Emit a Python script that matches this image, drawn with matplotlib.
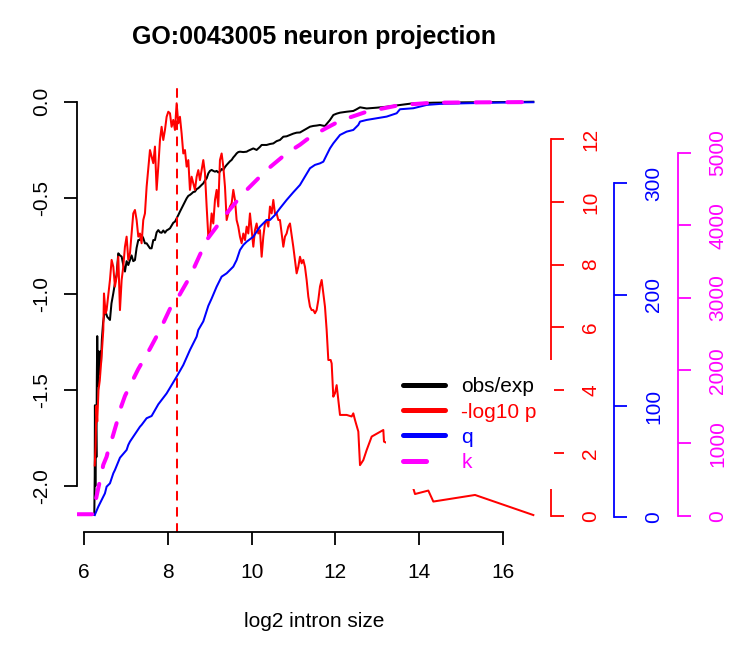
import matplotlib
matplotlib.use("Agg")
import matplotlib.pyplot as plt
from matplotlib.lines import Line2D

plt.rcParams['font.family'] = ['Liberation Sans', 'DejaVu Sans']
plt.rcParams['axes.unicode_minus'] = False
plt.rcParams['lines.scale_dashes'] = False

# obs/exp (left axis)
obs_x = [6.24, 6.25, 6.255, 6.265, 6.275, 6.29, 6.30, 6.31, 6.325, 6.34, 6.36, 6.38,
         6.40, 6.42, 6.45, 6.494, 6.55, 6.614, 6.65, 6.694, 6.733, 6.773, 6.813, 6.853,
         6.893, 6.932, 6.972, 7.012, 7.052, 7.092, 7.13, 7.171, 7.211, 7.251, 7.291, 7.33,
         7.370, 7.41, 7.450, 7.490, 7.53, 7.570, 7.609, 7.649, 7.689, 7.729, 7.769, 7.809,
         7.848, 7.888, 7.928, 7.968, 8.008, 8.048, 8.087, 8.127, 8.167, 8.207, 8.247, 8.286,
         8.326, 8.366, 8.406, 8.446, 8.486, 8.525, 8.565, 8.605, 8.645, 8.685, 8.725, 8.764,
         8.804, 8.844, 8.884, 8.924, 8.964, 9.003, 9.043, 9.083, 9.123, 9.163, 9.202, 9.242,
         9.282, 9.322, 9.362, 9.402, 9.441, 9.481, 9.521, 9.561, 9.601, 9.640, 9.680, 9.720,
         9.80, 9.880, 9.919, 9.959, 10.039, 10.118, 10.198, 10.238, 10.357, 10.437, 10.517,
         10.596, 10.676, 10.756, 10.835, 10.915, 10.994, 11.074, 11.154, 11.233, 11.313,
         11.393, 11.473, 11.552, 11.632, 11.712, 11.751, 11.871, 11.951, 12.03, 12.110,
         12.269, 12.428, 12.50, 12.588, 12.747, 12.986, 13.225, 13.543, 13.862, 14.340,
         14.738, 15.136, 15.933, 16.729]
obs_y = [-2.15, -1.95, -1.58, -2.0, -1.62, -1.85, -1.45, -1.22, -1.48, -1.30, -1.42, -1.30,
         -1.36, -1.24, -1.15, -1.084, -1.12, -1.136, -1.05, -0.997, -0.945, -0.90, -0.789, -0.80,
         -0.806, -0.85, -0.884, -0.83, -0.85, -0.824, -0.80, -0.83, -0.824, -0.76, -0.720, -0.72,
         -0.694, -0.71, -0.737, -0.737, -0.75, -0.763, -0.763, -0.72, -0.72, -0.68, -0.668, -0.68,
         -0.682, -0.67, -0.682, -0.67, -0.665, -0.659, -0.645, -0.63, -0.624, -0.607, -0.59, -0.572,
         -0.555, -0.538, -0.52, -0.503, -0.49, -0.485, -0.478, -0.47, -0.468, -0.455, -0.45, -0.442,
         -0.433, -0.425, -0.41, -0.399, -0.373, -0.36, -0.355, -0.36, -0.364, -0.36, -0.368, -0.364,
         -0.35, -0.355, -0.34, -0.329, -0.32, -0.31, -0.303, -0.29, -0.28, -0.269, -0.262, -0.260,
         -0.262, -0.260, -0.255, -0.251, -0.243, -0.251, -0.235, -0.225, -0.225, -0.22, -0.217,
         -0.205, -0.199, -0.182, -0.18, -0.173, -0.166, -0.161, -0.16, -0.15, -0.14,
         -0.13, -0.126, -0.124, -0.121, -0.125, -0.126, -0.095, -0.069, -0.062, -0.057,
         -0.052, -0.048, -0.040, -0.029, -0.035, -0.031, -0.026, -0.017, -0.008, -0.005,
         -0.004, -0.003, -0.002, 0.0]

# -log10 p (red axis)
p_x = [6.25, 6.27, 6.29, 6.31, 6.34, 6.37, 6.41, 6.455, 6.471, 6.510, 6.534, 6.614,
       6.654, 6.694, 6.733, 6.773, 6.813, 6.853, 6.893, 6.932, 6.972, 7.012, 7.052, 7.092,
       7.171, 7.211, 7.251, 7.291, 7.331, 7.370, 7.410, 7.450, 7.490, 7.570, 7.609, 7.649,
       7.689, 7.729, 7.769, 7.809, 7.848, 7.888, 7.928, 7.968, 8.008, 8.048, 8.087, 8.127,
       8.167, 8.207, 8.247, 8.286, 8.326, 8.366, 8.406, 8.446, 8.486, 8.525, 8.565, 8.605,
       8.645, 8.685, 8.725, 8.764, 8.804, 8.844, 8.884, 8.924, 8.964, 9.003, 9.043, 9.083,
       9.123, 9.163, 9.202, 9.242, 9.282, 9.322, 9.362, 9.402, 9.441, 9.481, 9.521, 9.561,
       9.601, 9.640, 9.680, 9.720, 9.760, 9.800, 9.840, 9.880, 9.919, 9.959, 9.999, 10.039,
       10.079, 10.118, 10.158, 10.198, 10.238, 10.278, 10.317, 10.357, 10.397, 10.437,
       10.477, 10.517, 10.556, 10.596, 10.636, 10.676, 10.716, 10.756, 10.795, 10.835,
       10.875, 10.915, 10.994, 11.034, 11.074, 11.114, 11.154, 11.194, 11.233, 11.273,
       11.313, 11.353, 11.393, 11.433, 11.473, 11.512, 11.552, 11.592, 11.632, 11.672,
       11.712, 11.751, 11.791, 11.831, 11.887, 11.911, 11.950, 11.990, 12.030, 12.070,
       12.110, 12.269, 12.389, 12.428, 12.468, 12.548, 12.588, 12.667, 12.747, 12.867,
       13.145, 13.161, 13.241, 13.862, 13.902, 14.220, 14.340, 15.336, 16.729]
p_y = [1.6, 2.2, 3.5, 3.0, 4.0, 4.3, 5.0, 5.92, 7.08, 6.45, 6.55, 7.51,
       8.15, 7.93, 7.30, 7.61, 8.25, 6.55, 7.51, 7.93, 8.57, 8.89, 8.15, 8.36,
       9.63, 9.74, 9.42, 8.89, 8.99, 8.68, 9.42, 9.63, 10.48, 11.65, 11.44, 11.23,
       11.76, 10.38, 11.12, 11.97, 12.39, 11.97, 12.29, 12.71, 12.87, 12.82, 12.39, 12.61,
       12.29, 13.14, 12.50, 12.71, 12.18, 11.54, 11.65, 11.12, 11.33, 10.38, 10.80, 10.59,
       10.38, 10.80, 11.01, 10.69, 11.01, 11.33, 10.91, 9.85, 8.89, 8.99, 9.63, 9.31,
       10.06, 10.38, 9.85, 11.33, 11.54, 11.12, 10.48, 9.42, 9.63, 9.85, 9.95, 10.38,
       10.06, 9.42, 9.21, 8.89, 8.68, 8.99, 8.78, 9.21, 8.99, 9.63, 9.10, 8.57,
       9.10, 9.31, 8.99, 9.10, 8.25, 8.89, 9.31, 9.42, 9.21, 9.85,
       9.63, 10.06, 9.63, 9.63, 9.42, 9.42, 8.99, 8.57, 8.89, 8.99,
       9.21, 9.31, 8.57, 8.15, 7.72, 7.93, 8.25, 8.04, 8.15, 7.93,
       7.51, 6.98, 6.66, 6.55, 6.55, 6.45, 6.55, 6.87, 7.30, 7.51,
       7.08, 6.66, 5.92, 4.96, 4.96, 4.85, 3.79, 3.90, 4.16, 3.69,
       3.21, 3.21, 3.16, 3.26, 3.05, 2.68, 1.61, 1.77, 2.09, 2.52,
       2.73, 2.36, 2.31, 0.87, 0.69, 0.80, 0.45, 0.66, 0.02]

# q (blue axis)
q_x = [6.25, 6.335, 6.494, 6.534, 6.614, 6.694, 6.733, 6.853, 7.012, 7.052, 7.092, 7.331,
       7.370, 7.490, 7.609, 7.769, 7.968, 8.207, 8.366, 8.525, 8.685, 8.725, 8.844, 8.964,
       9.043, 9.163, 9.282, 9.402, 9.561, 9.640, 9.720, 9.800, 9.880, 10.039, 10.198,
       10.357, 10.437, 10.556, 10.676, 10.835, 10.994, 11.154, 11.273, 11.393, 11.512,
       11.632, 11.712, 11.791, 11.871, 11.951, 12.110, 12.269, 12.428, 12.548, 12.588,
       12.747, 12.986, 13.225, 13.464, 13.543, 13.862, 14.181, 14.499, 15.136, 15.933, 16.729]
q_y = [2, 9.5, 21.5, 27.5, 30.5, 39.5, 42.5, 53.5, 60.5, 65, 68, 81.4,
       83, 89, 91, 101.5, 111.3, 126.3, 136.8, 150.3, 162.3, 168.3, 176, 190,
       196.5, 207.2, 216.2, 219.2, 225.2, 231.1, 240.1, 244.6, 247.6, 252.1, 261.1,
       267.1, 267.1, 271.6, 277.6, 285.1, 292, 298.6, 306.1, 313.6, 316.6,
       318.0, 319.5, 325.5, 331.5, 336.0, 343.5, 346.5, 348.0, 352.5, 355.5,
       357.0, 358.5, 360.0, 363.0, 366.6, 367.5, 370.5, 371.4, 372.0, 372.6, 372.9]

# k (magenta axis)
k_x = [5.84, 6.20, 6.22, 6.26, 6.335, 6.416, 6.454, 6.535, 6.614, 6.655, 6.774, 6.853,
       6.973, 7.092, 7.29, 7.570, 7.809, 8.048, 8.207, 8.525, 8.924, 9.402, 9.80, 10.357,
       10.835, 11.154, 11.313, 11.473, 11.751, 12.11, 12.747, 13.543, 14.34, 15.136, 16.729]
k_y = [20, 20, 40, 175, 380, 584, 700, 813, 1000, 1043, 1277, 1456,
       1650, 1790, 2020, 2300, 2558, 2850, 2972, 3292, 3797, 4165, 4441, 4762,
       4992, 5110, 5180, 5240, 5330, 5440, 5565, 5657, 5689, 5693, 5698]

cut_x = 8.21

fig = plt.figure(figsize=(7.38, 6.48), dpi=100)
ax = fig.add_axes([0.1047, 0.1795, 0.6415, 0.6890])
ax.set_xlim(5.833, 17.144)
ax.set_ylim(-2.238, 0.086)

for s in ['top', 'right']:
    ax.spines[s].set_visible(False)
ax.spines['left'].set_bounds(-2, 0)
ax.spines['bottom'].set_bounds(6, 16)
for s in ['left', 'bottom']:
    ax.spines[s].set_linewidth(1.3)
ax.set_xticks([6, 8, 10, 12, 14, 16])
ax.set_xticklabels(['6', '8', '10', '12', '14', '16'], fontsize=15)
yt = [-2.0, -1.5, -1.0, -0.5, 0.0]
ax.set_yticks(yt)
ax.set_yticklabels(['%.1f' % v for v in yt], fontsize=15, rotation=90, va='center')
ax.tick_params(axis='both', length=9.4, width=1.3)
ax.tick_params(axis='x', pad=13)
ax.tick_params(axis='y', pad=9.5)

ax.plot(obs_x, obs_y, color='black', lw=1.45)
ax.axvline(cut_x, color='red', lw=1.45, linestyle=(0, (5.8, 5.8)), dash_capstyle='round')

ax.set_xlabel('log2 intron size', fontsize=15, labelpad=22)
ax.set_title('GO:0043005 neuron projection', fontsize=18, fontweight='bold', pad=30)


def side_axis(color, ylim, bounds, ticks, offset):
    a = ax.twinx()
    a.set_ylim(*ylim)
    for s in ['left', 'top', 'bottom']:
        a.spines[s].set_visible(False)
    a.spines['right'].set_position(('outward', offset))
    a.spines['right'].set_bounds(*bounds)
    a.spines['right'].set_color(color)
    a.spines['right'].set_linewidth(1.3)
    a.set_yticks(ticks)
    a.set_yticklabels([str(t) for t in ticks], fontsize=15, rotation=90, va='center')
    a.tick_params(axis='y', colors=color, length=9.4, width=1.3, pad=12.5)
    return a


ax_p = side_axis('red', (-0.510, 13.715), (0, 12), [0, 2, 4, 6, 8, 10, 12], 0)
ax_p.plot(p_x, p_y, color='red', lw=1.45)

ax_q = side_axis('blue', (-12.94, 388.2), (0, 300), [0, 100, 200, 300], 45.6)
ax_q.plot(q_x, q_y, color='blue', lw=1.45)

ax_k = side_axis('magenta', (-220.4, 5930), (0, 5000), [0, 1000, 2000, 3000, 4000, 5000], 91.4)
ax_k.plot(k_x, k_y, color='magenta', lw=2.9, linestyle=(0, (10.5, 12.3)),
          dash_capstyle='round')

handles = [Line2D([], [], color='black', lw=3.6, solid_capstyle='round'),
           Line2D([], [], color='red', lw=3.6, solid_capstyle='round'),
           Line2D([], [], color='blue', lw=3.6, solid_capstyle='round'),
           Line2D([], [], color='magenta', lw=3.6, linestyle=(0, (16.6, 20)),
                  dash_capstyle='round')]
names = ['obs/exp', '-log10 p', 'q', 'k']
leg = ax_k.legend(handles, names, loc='upper left',
                  bbox_to_anchor=(386 / 738, 1 - 360 / 648), bbox_transform=fig.transFigure,
                  frameon=True, fancybox=False, framealpha=1, facecolor='white',
                  edgecolor='none', fontsize=15, handlelength=2.02, handletextpad=0.77,
                  borderpad=0.83, labelspacing=0.3, borderaxespad=0)
for t, c in zip(leg.get_texts(), ['black', 'red', 'blue', 'magenta']):
    t.set_color(c)

fig.savefig('out.png', dpi=100)
